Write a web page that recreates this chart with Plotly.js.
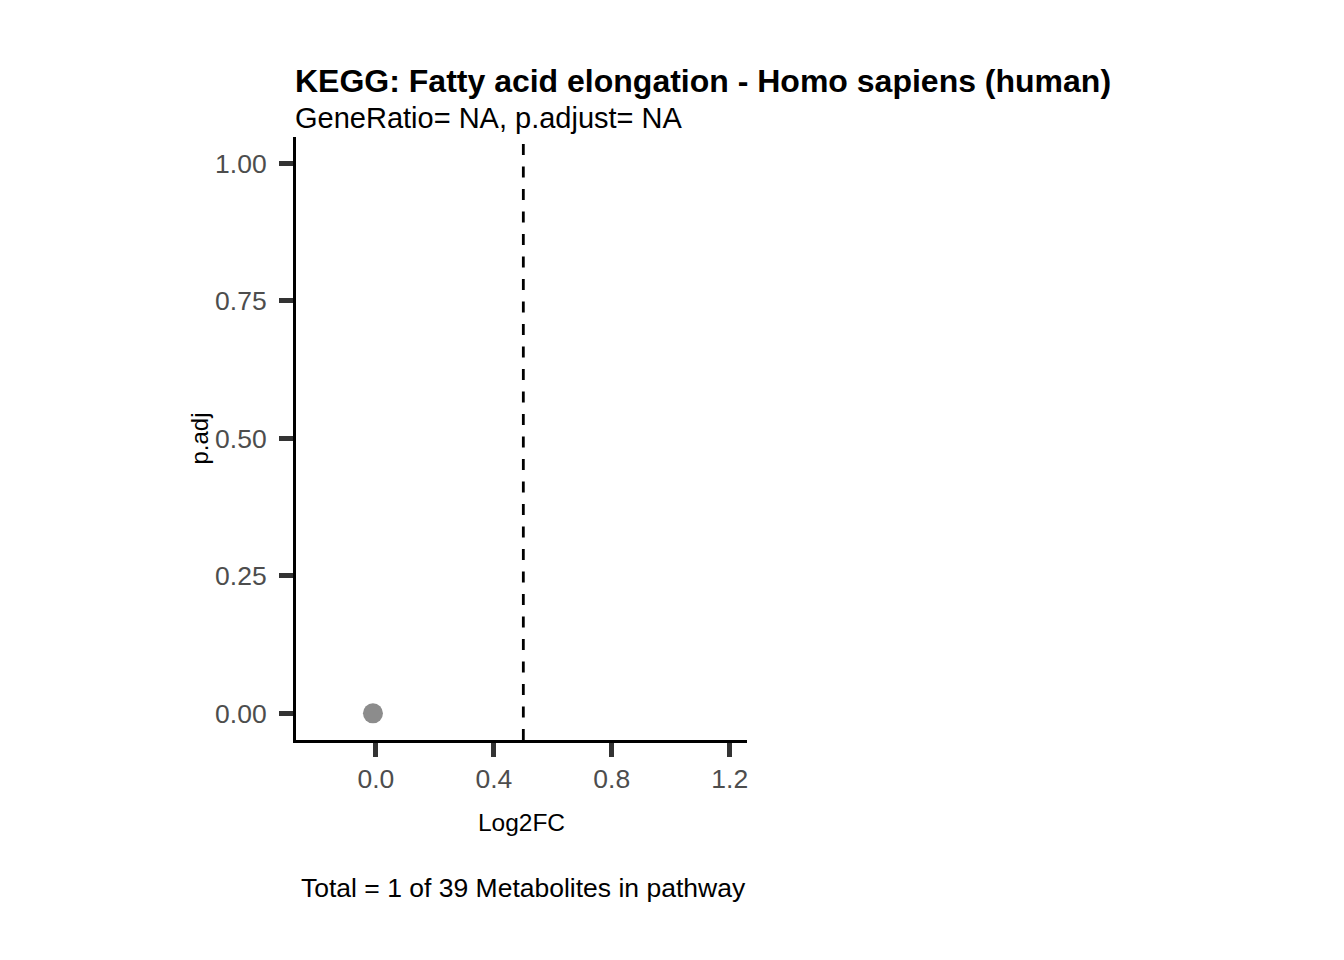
<!DOCTYPE html>
<html>
<head>
<meta charset="utf-8">
<script src="https://cdn.plot.ly/plotly-3.0.1.min.js"></script>
<style>html,body{margin:0;padding:0;background:#fff;}#chart{width:1344px;height:960px;}</style>
</head>
<body>
<div id="chart"></div>
<script>
// ---- data ----
const log2fc = [-0.01];
const padj = [0];
const thresholdLog2FC = 0.5;
const xTickVals = [0, 0.4, 0.8, 1.2];
const xTickText = ['0.0', '0.4', '0.8', '1.2'];
const yTickVals = [0, 0.25, 0.5, 0.75, 1.0];
const yTickText = ['0.00', '0.25', '0.50', '0.75', '1.00'];
const titleText = 'KEGG: Fatty acid elongation - Homo sapiens (human)';
const subtitleText = 'GeneRatio= NA, p.adjust= NA';
const captionText = 'Total = 1 of 39 Metabolites in pathway';
const xTitle = 'Log2FC';
const yTitle = 'p.adj';

const FONT = 'Liberation Sans, Arial, Helvetica, sans-serif';

const trace = {
  x: log2fc, y: padj, type: 'scatter', mode: 'markers',
  marker: {color: '#8c8c8c', size: 20},
  hoverinfo: 'x+y', showlegend: false
};

const axisCommon = {
  showgrid: false, zeroline: false, showline: true,
  linecolor: '#000000', linewidth: 3, mirror: false,
  ticks: 'outside', ticklen: 14, tickwidth: 5, tickcolor: '#333333',
  tickfont: {family: FONT, size: 26.5, color: '#4d4d4d'},
  tickmode: 'array'
};

const layout = {
  width: 1344, height: 960,
  paper_bgcolor: '#ffffff', plot_bgcolor: '#ffffff',
  margin: {l: 296, r: 597, t: 137, b: 220, pad: 0},
  font: {family: FONT, color: '#000000'},
  title: {
    text: '<b>' + titleText + '</b>',
    font: {family: FONT, size: 32, color: '#000000'},
    x: 295 / 1344, xanchor: 'left', xref: 'container',
    y: 1 - 92 / 960, yanchor: 'bottom', yref: 'container'
  },
  xaxis: Object.assign({}, axisCommon, {
    range: [-0.271, 1.2586],
    tickvals: xTickVals, ticktext: xTickText,
    ticklabelstandoff: -1,
    title: {text: xTitle, standoff: 22, font: {family: FONT, size: 24.5, color: '#000000'}}
  }),
  yaxis: Object.assign({}, axisCommon, {
    range: [-0.0485, 1.0478],
    tickvals: yTickVals, ticktext: yTickText,
    ticklabelstandoff: 7,
    title: {text: yTitle, standoff: 0, font: {family: FONT, size: 24, color: '#000000'}}
  }),
  shapes: [{
    type: 'line', xref: 'x', yref: 'paper',
    x0: thresholdLog2FC, x1: thresholdLog2FC, y0: 0, y1: 1,
    line: {color: '#000000', width: 2.8, dash: '11px,11.5px'}, layer: 'below'
  }],
  annotations: [{
    text: subtitleText, xref: 'paper', yref: 'paper',
    x: 0, xanchor: 'left', xshift: -3, y: (740 - 118) / 603, yanchor: 'middle',
    showarrow: false, font: {family: FONT, size: 29, color: '#000000'}
  }, {
    text: captionText, xref: 'paper', yref: 'paper',
    x: 1, xanchor: 'right', xshift: 1, y: -(888 - 740) / 603, yanchor: 'middle',
    showarrow: false, font: {family: FONT, size: 26.5, color: '#000000'}
  }]
};

Plotly.newPlot('chart', [trace], layout, {displayModeBar: false});
</script>
</body>
</html>
